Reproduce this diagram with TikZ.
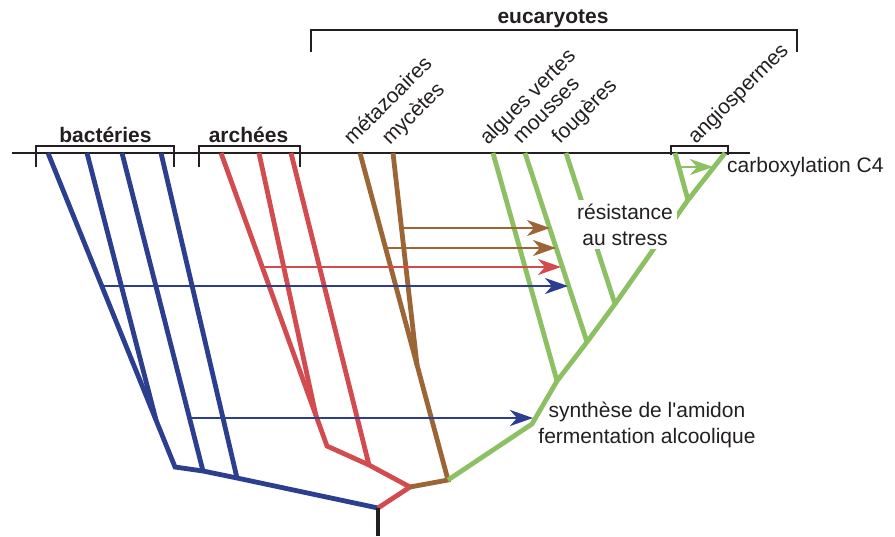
\documentclass[tikz,border=0pt]{standalone}
\usepackage{fontspec}
\setmainfont{Liberation Sans}
\usetikzlibrary{arrows.meta}
\definecolor{bact}{RGB}{44,62,142}
\definecolor{arch}{RGB}{210,75,79}
\definecolor{fung}{RGB}{156,101,53}
\definecolor{plant}{RGB}{140,192,99}
\definecolor{ink}{RGB}{35,31,32}
\tikzset{
  branch/.style={line width=4.8pt},
  transfer/.style={line width=2.8pt,-{Stealth[length=23pt,width=16pt,inset=7pt]}},
  groupbracket/.style={draw=ink,line width=1.8pt},
  label/.style={text=ink,inner sep=0pt,font=\fontsize{21pt}{25pt}\selectfont},
  grouplabel/.style={label,anchor=base,font=\fontsize{21pt}{25pt}\selectfont\bfseries},
  taxon/.style={label,anchor=base west,rotate=45},
}
\begin{document}
\begin{tikzpicture}[x=1pt,y=-1pt]
\useasboundingbox (0,0) rectangle (895,536);

% ---- tips on the present-day line
\coordinate (axL) at (12,153);   \coordinate (axR) at (750,153);
\coordinate (b1) at (48,153);  \coordinate (b2) at (87,153);
\coordinate (b3) at (122,153); \coordinate (b4) at (161,153);
\coordinate (r1) at (221,153); \coordinate (r2) at (259,153); \coordinate (r3) at (291,153);
\coordinate (m1) at (360,153); \coordinate (m2) at (393,153);
\coordinate (g1) at (493,153); \coordinate (g2) at (525,153); \coordinate (g3) at (566,153);
\coordinate (g4) at (675,153); \coordinate (g5) at (725,153);

% ---- internal nodes
\coordinate (root0) at (378,536); \coordinate (root) at (378,508);
\coordinate (bA) at (175,467); \coordinate (bB) at (156,420);
\coordinate (bC) at (203,471); \coordinate (bD) at (237,478);
\coordinate (rA) at (410,487); \coordinate (rB) at (369,465);
\coordinate (rC) at (327,446); \coordinate (rD) at (316,416);
\coordinate (mA) at (448,480); \coordinate (mB) at (417,365);
\coordinate (gA) at (532,424); \coordinate (gB) at (557,381);
\coordinate (gC) at (587,342); \coordinate (gD) at (615,304);
\coordinate (gE) at (688,200);

% ---- time axis
\draw[ink,line width=1.6pt] (axL) -- (axR);

% ---- bacteria
\begin{scope}[bact,branch]
  \draw (root) -- (bD) -- (bC) -- (bA) -- (b1);
  \draw (bB) -- (b2);
  \draw (bC) -- (b3);
  \draw (bD) -- (b4);
\end{scope}

% ---- archaea
\begin{scope}[arch,branch]
  \draw (root) -- (rA) -- (rB) -- (rC) -- (r1);
  \draw (rD) -- (r2);
  \draw (rB) -- (r3);
\end{scope}

% ---- metazoa and fungi
\begin{scope}[fung,branch]
  \draw (rA) -- (mA) -- (m1);
  \draw (mB) -- (m2);
\end{scope}

% ---- green plants
\begin{scope}[plant,branch]
  \draw (mA) -- (gA) -- (gB) -- (gC) -- (gD) -- (gE) -- (g5);
  \draw (gB) -- (g1);
  \draw (gC) -- (g2);
  \draw (gD) -- (g3);
  \draw (gE) -- (g4);
\end{scope}

% ---- root stem
\draw[ink,line width=4.8pt] (root0) -- (root);

% ---- label with knock-out background
\node[label,fill=white,align=center,inner sep=4pt,anchor=base] (stress) at (625,245)
  {résistance\\[1pt]au stress};

% ---- gene transfers
\coordinate (tm1s) at (402,228); \coordinate (tm1e) at (550,228);
\coordinate (tm2s) at (386,248); \coordinate (tm2e) at (556,248);
\coordinate (tr1s) at (262,267); \coordinate (tr1e) at (561,267);
\coordinate (tb1s) at (102,286); \coordinate (tb1e) at (568,286);
\coordinate (tb2s) at (189,418); \coordinate (tb2e) at (533,418);
\coordinate (tg1s) at (680,167); \coordinate (tg1e) at (713,167);
\draw[transfer,fung] (tm1s) -- (tm1e);
\draw[transfer,fung] (tm2s) -- (tm2e);
\draw[transfer,arch] (tr1s) -- (tr1e);
\draw[transfer,bact] (tb1s) -- (tb1e);
\draw[transfer,bact] (tb2s) -- (tb2e);
\draw[transfer,plant] (tg1s) -- (tg1e);

% ---- group brackets
\draw[groupbracket] (36,167) -- (36,146) -- (174,146) -- (174,167);
\draw[groupbracket] (199,167) -- (199,146) -- (300,146) -- (300,167);
\draw[groupbracket] (311,52) -- (311,30) -- (797,30) -- (797,52);
\draw[groupbracket] (671,155) -- (671,146) -- (728,146) -- (728,155);

\node[grouplabel] (lbact) at (105.5,142) {bactéries};
\node[grouplabel] (larch) at (248.5,142) {archées};
\node[grouplabel] (leuc) at (553,23) {eucaryotes};

% ---- taxon names
\node[taxon] (tmet) at (352,146) {métazoaires};
\node[taxon] (tmyc) at (390,146) {mycètes};
\node[taxon] (talg) at (488,146) {algues vertes};
\node[taxon] (tmou) at (521,145) {mousses};
\node[taxon] (tfou) at (560,145) {fougères};
\node[taxon] (tang) at (696,145) {angiospermes};

% ---- innovations
\node[label,anchor=base west] (lc4) at (727,172) {carboxylation C4};
\node[label,anchor=base] (lamid) at (647,417) {synthèse de l\textquotesingle amidon};
\node[label,anchor=base] (lferm) at (647,443) {fermentation alcoolique};
\end{tikzpicture}
\end{document}
